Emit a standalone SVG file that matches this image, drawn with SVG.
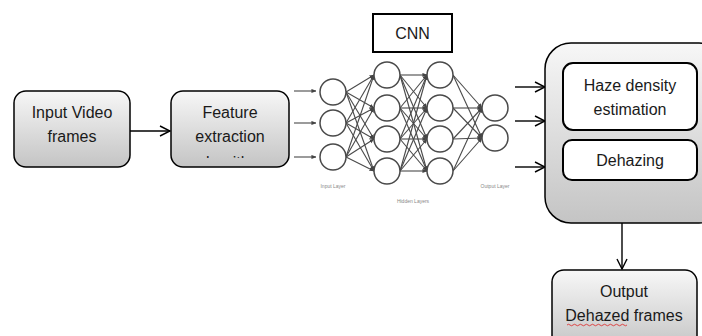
<svg xmlns="http://www.w3.org/2000/svg" width="702" height="336" viewBox="0 0 702 336">
  <defs>
    <linearGradient id="boxGrad" x1="0" y1="0" x2="0" y2="1">
      <stop offset="0" stop-color="#f7f7f7"/>
      <stop offset="1" stop-color="#c4c4c4"/>
    </linearGradient>
    <marker id="openArrow" viewBox="0 0 12 12" refX="11" refY="6" markerWidth="12" markerHeight="12" markerUnits="userSpaceOnUse" orient="auto">
      <path d="M1,1 L11,6 L1,11" fill="none" stroke="#000" stroke-width="1.4"/>
    </marker>
    <marker id="nnArrow" viewBox="0 0 6 6" refX="5.5" refY="3" markerWidth="5" markerHeight="5" markerUnits="userSpaceOnUse" orient="auto">
      <path d="M0,0.5 L6,3 L0,5.5 Z" fill="#444"/>
    </marker>
    <clipPath id="featClip">
      <rect x="171" y="91" width="118" height="67"/>
    </clipPath>
    <style>
      .box { fill: url(#boxGrad); stroke: #000; stroke-width: 1.5; }
      .inner { fill: #fff; stroke: #000; stroke-width: 2; }
      .lbl { font-family: "Liberation Sans", Arial, sans-serif; font-size: 16px; fill: #1a1a1a; text-anchor: middle; }
      .conn { stroke: #000; stroke-width: 1.4; fill: none; marker-end: url(#openArrow); }
      .neuron { fill: #fff; stroke: #4a4a4a; stroke-width: 1.5; }
      .syn { stroke: #4a4a4a; stroke-width: 1.1; fill: none; marker-end: url(#nnArrow); }
      .nnlbl { font-family: "Liberation Sans", Arial, sans-serif; font-size: 5px; fill: #888; text-anchor: middle; }
    </style>
  </defs>

  <!-- connectors -->
  <g id="connectors">
    <line class="conn" x1="130" y1="131" x2="170" y2="131"/>
    <line class="conn" x1="515" y1="87" x2="545" y2="87"/>
    <line class="conn" x1="515" y1="121" x2="545" y2="121"/>
    <line class="conn" x1="515" y1="167" x2="545" y2="167"/>
    <line class="conn" x1="622" y1="223" x2="622" y2="269"/>
  </g>

  <!-- input node -->
  <g id="input-video">
    <rect class="box" x="14" y="91" width="116" height="76" rx="12"/>
    <text class="lbl" x="72" y="118">Input Video</text>
    <text class="lbl" x="72" y="142">frames</text>
  </g>

  <!-- feature extraction node -->
  <g id="feature-extraction">
    <rect class="box" x="171" y="91" width="118" height="76" rx="12"/>
    <text class="lbl" x="230" y="118">Feature</text>
    <text class="lbl" x="230" y="142">extraction</text>
    <text class="lbl" x="230" y="168" clip-path="url(#featClip)">algorithm</text>
  </g>

  <!-- CNN title -->
  <g id="cnn-title">
    <rect x="373" y="14" width="79" height="38" fill="#fff" stroke="#000" stroke-width="2"/>
    <text class="lbl" x="412.5" y="39">CNN</text>
  </g>

  <!-- neural network -->
  <g id="cnn">
    <g id="nn-inputs">
      <line class="syn" x1="294" y1="91" x2="316" y2="91"/>
      <line class="syn" x1="294" y1="123" x2="316" y2="123"/>
      <line class="syn" x1="294" y1="157" x2="316" y2="157"/>
    </g>
    <g id="nn-synapses">
      <!-- input layer to hidden layer 1 -->
      <path class="syn" d="M346,92 L374,75"/><path class="syn" d="M346,92 L374,108"/><path class="syn" d="M346,92 L374,139"/><path class="syn" d="M346,92 L374,171"/>
      <path class="syn" d="M346,123 L374,75"/><path class="syn" d="M346,123 L374,108"/><path class="syn" d="M346,123 L374,139"/><path class="syn" d="M346,123 L374,171"/>
      <path class="syn" d="M346,157 L374,75"/><path class="syn" d="M346,157 L374,108"/><path class="syn" d="M346,157 L374,139"/><path class="syn" d="M346,157 L374,171"/>
      <!-- hidden layer 1 to hidden layer 2 -->
      <path class="syn" d="M400,75 L427,75"/><path class="syn" d="M400,75 L427,108"/><path class="syn" d="M400,75 L427,139"/><path class="syn" d="M400,75 L427,171"/>
      <path class="syn" d="M400,108 L427,75"/><path class="syn" d="M400,108 L427,108"/><path class="syn" d="M400,108 L427,139"/><path class="syn" d="M400,108 L427,171"/>
      <path class="syn" d="M400,139 L427,75"/><path class="syn" d="M400,139 L427,108"/><path class="syn" d="M400,139 L427,139"/><path class="syn" d="M400,139 L427,171"/>
      <path class="syn" d="M400,171 L427,75"/><path class="syn" d="M400,171 L427,108"/><path class="syn" d="M400,171 L427,139"/><path class="syn" d="M400,171 L427,171"/>
      <!-- hidden layer 2 to output layer -->
      <path class="syn" d="M453,75 L482,108"/><path class="syn" d="M453,75 L482,138"/>
      <path class="syn" d="M453,108 L482,108"/><path class="syn" d="M453,108 L482,138"/>
      <path class="syn" d="M453,139 L482,108"/><path class="syn" d="M453,139 L482,138"/>
      <path class="syn" d="M453,171 L482,108"/><path class="syn" d="M453,171 L482,138"/>
    </g>
    <g id="nn-neurons">
      <circle class="neuron" cx="333" cy="92" r="13"/>
      <circle class="neuron" cx="333" cy="123" r="13"/>
      <circle class="neuron" cx="333" cy="157" r="13"/>
      <circle class="neuron" cx="387" cy="75" r="13"/>
      <circle class="neuron" cx="387" cy="108" r="13"/>
      <circle class="neuron" cx="387" cy="139" r="13"/>
      <circle class="neuron" cx="387" cy="171" r="13"/>
      <circle class="neuron" cx="440" cy="75" r="13"/>
      <circle class="neuron" cx="440" cy="108" r="13"/>
      <circle class="neuron" cx="440" cy="139" r="13"/>
      <circle class="neuron" cx="440" cy="171" r="13"/>
      <circle class="neuron" cx="495" cy="108" r="13"/>
      <circle class="neuron" cx="495" cy="138" r="13"/>
    </g>
    <text class="nnlbl" x="333" y="188">Input Layer</text>
    <text class="nnlbl" x="413" y="203">Hidden Layers</text>
    <text class="nnlbl" x="495" y="188">Output Layer</text>
  </g>

  <!-- processing block -->
  <g id="processing">
    <rect class="box" x="545" y="43" width="180" height="180" rx="26"/>
    <g id="haze-density">
      <rect class="inner" x="563" y="63" width="134" height="67" rx="10"/>
      <text class="lbl" x="630" y="91">Haze density</text>
      <text class="lbl" x="630" y="115">estimation</text>
    </g>
    <g id="dehazing">
      <rect class="inner" x="563" y="140" width="134" height="40" rx="9"/>
      <text class="lbl" x="630" y="166">Dehazing</text>
    </g>
  </g>

  <!-- output node -->
  <g id="output">
    <rect class="box" x="552" y="270" width="145" height="80" rx="12"/>
    <text class="lbl" x="624" y="297">Output</text>
    <text class="lbl" x="624" y="321">Dehazed frames</text>
    <!-- spell-check squiggle under "Dehazed" -->
    <path d="M567,325 q1.5,-1.5 3,0 t3,0 t3,0 t3,0 t3,0 t3,0 t3,0 t3,0 t3,0 t3,0 t3,0 t3,0 t3,0 t3,0 t3,0 t3,0 t3,0 t3,0 t3,0 t3,0" fill="none" stroke="#d22" stroke-width="0.8"/>
  </g>
</svg>
